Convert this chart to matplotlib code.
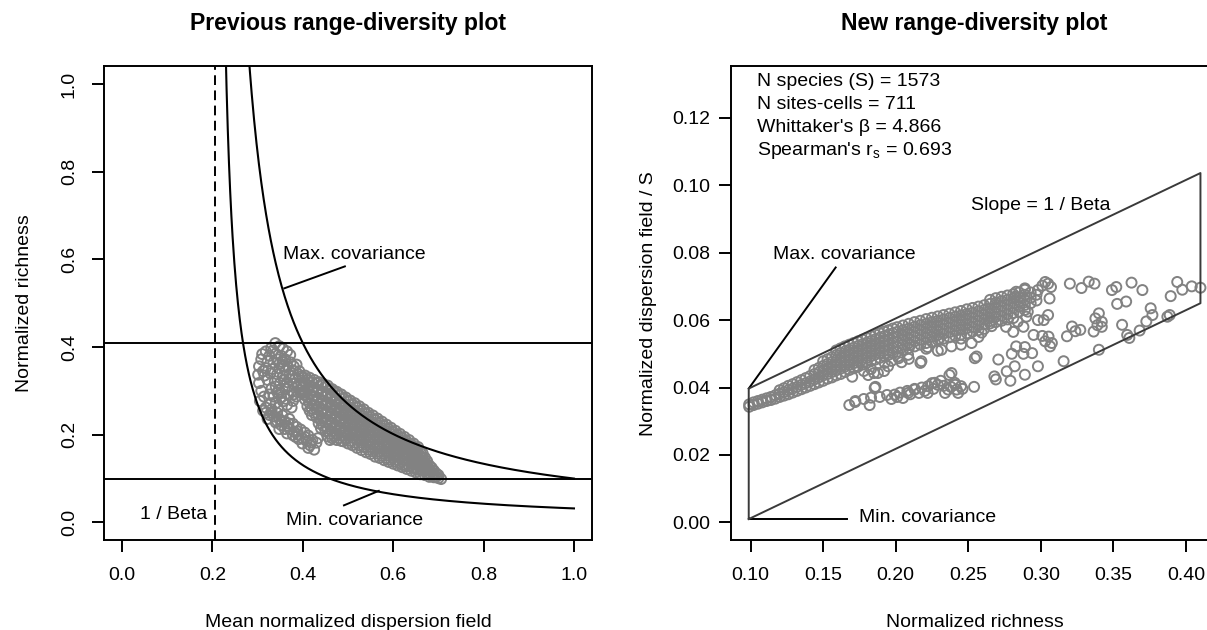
import numpy as np
import matplotlib
matplotlib.use("Agg")
import matplotlib.pyplot as plt

plt.rcParams['font.family'] = ['Liberation Sans', 'DejaVu Sans']
plt.rcParams['mathtext.fontset'] = 'custom'
plt.rcParams['mathtext.rm'] = 'Liberation Sans'

# summary numbers
n_species = 1573
n_sites = 711
beta = 4.866
spearman = 0.693
inv_beta = 0.2055
rich_min, rich_max = 0.0987, 0.41

# bound curves of the old plot: richness = k / (dispersion - 1/beta)
max_k = 0.0795
min_k = 0.0254

# bounds of the new plot (polygon)
poly_x = [rich_min, rich_min, rich_max, rich_max, rich_min]
poly_y = [0.0010, 0.0397, 0.1036, 0.0650, 0.0010]

left_ticks = [0.0, 0.2, 0.4, 0.6, 0.8, 1.0]
right_xticks = [0.10, 0.15, 0.20, 0.25, 0.30, 0.35, 0.40]
right_yticks = [0.00, 0.02, 0.04, 0.06, 0.08, 0.10, 0.12]

# ---- old plot points (x = mean normalized dispersion field, y = normalized richness)
old_lobe = [
    [0.339, 0.409], [0.348, 0.402], [0.330, 0.398], [0.356, 0.396], [0.365, 0.390],
    [0.318, 0.390], [0.310, 0.384], [0.326, 0.380], [0.340, 0.385], [0.352, 0.380],
    [0.372, 0.382], [0.308, 0.372], [0.322, 0.368], [0.335, 0.365], [0.348, 0.362],
    [0.361, 0.372], [0.373, 0.365], [0.386, 0.360], [0.303, 0.356], [0.318, 0.352],
    [0.333, 0.350], [0.348, 0.351], [0.362, 0.347], [0.378, 0.347], [0.392, 0.345],
    [0.301, 0.337], [0.315, 0.335], [0.343, 0.338], [0.356, 0.334], [0.370, 0.336],
    [0.384, 0.330], [0.398, 0.334], [0.303, 0.318], [0.338, 0.322], [0.350, 0.318],
    [0.365, 0.320], [0.380, 0.316], [0.396, 0.318], [0.308, 0.300], [0.331, 0.306],
    [0.346, 0.302], [0.360, 0.305], [0.376, 0.300], [0.392, 0.302], [0.314, 0.287],
    [0.335, 0.287], [0.352, 0.285], [0.368, 0.290], [0.386, 0.287], [0.404, 0.291],
    [0.305, 0.277], [0.340, 0.272], [0.356, 0.276], [0.378, 0.277], [0.318, 0.262],
    [0.345, 0.262], [0.365, 0.268], [0.375, 0.262], [0.328, 0.272], [0.344, 0.296],
    [0.357, 0.357], [0.328, 0.340], [0.340, 0.310], [0.326, 0.292], [0.334, 0.392],
    [0.344, 0.372], [0.355, 0.366], [0.366, 0.356], [0.380, 0.356], [0.390, 0.338],
    [0.372, 0.326], [0.358, 0.326], [0.388, 0.308], [0.368, 0.310], [0.352, 0.295],
    [0.380, 0.292], [0.362, 0.282], [0.395, 0.296], [0.322, 0.325], [0.312, 0.345],
]
old_branch = [
    [0.318, 0.250], [0.326, 0.245], [0.312, 0.255], [0.331, 0.258], [0.336, 0.242],
    [0.322, 0.236], [0.343, 0.250], [0.348, 0.236], [0.340, 0.228], [0.355, 0.244],
    [0.360, 0.230], [0.352, 0.222], [0.343, 0.231], [0.365, 0.220], [0.370, 0.236],
    [0.372, 0.212], [0.378, 0.225], [0.360, 0.213], [0.382, 0.206], [0.386, 0.218],
    [0.390, 0.200], [0.395, 0.212], [0.378, 0.199], [0.399, 0.192], [0.404, 0.205],
    [0.408, 0.186], [0.412, 0.198], [0.391, 0.190], [0.416, 0.176], [0.421, 0.188],
    [0.412, 0.170], [0.425, 0.166], [0.430, 0.182], [0.433, 0.192], [0.348, 0.213],
    [0.365, 0.203], [0.399, 0.180], [0.384, 0.195], [0.330, 0.250], [0.352, 0.232],
    [0.368, 0.226], [0.388, 0.208], [0.406, 0.194], [0.418, 0.182],
]
old_band = [
    (0.400, [0.330, 0.310, 0.295]),
    (0.405, [0.335, 0.318, 0.300, 0.280]),
    (0.410, [0.325, 0.305, 0.285, 0.265]),
    (0.415, [0.330, 0.312, 0.292, 0.272, 0.255]),
    (0.420, [0.320, 0.300, 0.280, 0.260, 0.245]),
    (0.425, [0.325, 0.308, 0.288, 0.268, 0.250]),
    (0.430, [0.318, 0.298, 0.278, 0.258, 0.240]),
    (0.435, [0.320, 0.302, 0.284, 0.264, 0.245, 0.226]),
    (0.440, [0.314, 0.292, 0.272, 0.252, 0.232, 0.215]),
    (0.445, [0.316, 0.298, 0.278, 0.258, 0.238, 0.220]),
    (0.450, [0.310, 0.287, 0.268, 0.248, 0.228, 0.208]),
    (0.455, [0.312, 0.293, 0.274, 0.254, 0.234, 0.214, 0.196]),
    (0.460, [0.304, 0.282, 0.262, 0.242, 0.222, 0.202, 0.188]),
    (0.465, [0.304, 0.287, 0.268, 0.248, 0.228, 0.208, 0.192]),
    (0.470, [0.297, 0.275, 0.256, 0.236, 0.216, 0.197]),
    (0.475, [0.298, 0.280, 0.262, 0.242, 0.222, 0.203, 0.188]),
    (0.480, [0.290, 0.270, 0.250, 0.230, 0.210, 0.192]),
    (0.485, [0.292, 0.274, 0.256, 0.236, 0.216, 0.198, 0.186]),
    (0.490, [0.283, 0.262, 0.244, 0.225, 0.205, 0.185]),
    (0.495, [0.285, 0.268, 0.250, 0.230, 0.210, 0.192]),
    (0.500, [0.276, 0.255, 0.236, 0.218, 0.198, 0.180]),
    (0.505, [0.278, 0.262, 0.244, 0.224, 0.205, 0.186]),
    (0.510, [0.269, 0.248, 0.230, 0.212, 0.193, 0.176]),
    (0.515, [0.272, 0.255, 0.238, 0.220, 0.200, 0.182]),
    (0.520, [0.262, 0.242, 0.224, 0.206, 0.188, 0.170]),
    (0.525, [0.265, 0.248, 0.230, 0.212, 0.194, 0.176]),
    (0.530, [0.255, 0.235, 0.218, 0.200, 0.182, 0.165]),
    (0.535, [0.258, 0.242, 0.225, 0.208, 0.190, 0.172]),
    (0.540, [0.248, 0.230, 0.212, 0.195, 0.177, 0.160]),
    (0.545, [0.250, 0.235, 0.218, 0.200, 0.183, 0.166]),
    (0.550, [0.240, 0.222, 0.205, 0.188, 0.172, 0.156]),
    (0.555, [0.244, 0.228, 0.212, 0.195, 0.178, 0.162]),
    (0.560, [0.234, 0.216, 0.200, 0.183, 0.167, 0.150]),
    (0.565, [0.237, 0.222, 0.206, 0.190, 0.174, 0.157]),
    (0.570, [0.227, 0.210, 0.194, 0.178, 0.162, 0.147]),
    (0.575, [0.230, 0.215, 0.200, 0.184, 0.168, 0.152]),
    (0.580, [0.220, 0.203, 0.188, 0.173, 0.157, 0.142]),
    (0.585, [0.223, 0.208, 0.194, 0.178, 0.162, 0.147]),
    (0.590, [0.213, 0.197, 0.182, 0.168, 0.153, 0.138]),
    (0.595, [0.216, 0.202, 0.188, 0.173, 0.158, 0.143]),
    (0.600, [0.206, 0.191, 0.177, 0.163, 0.148, 0.134]),
    (0.605, [0.209, 0.195, 0.182, 0.168, 0.153, 0.139]),
    (0.610, [0.199, 0.185, 0.171, 0.157, 0.143, 0.130]),
    (0.615, [0.202, 0.188, 0.175, 0.162, 0.148, 0.135]),
    (0.620, [0.192, 0.179, 0.166, 0.152, 0.139, 0.126]),
    (0.625, [0.195, 0.182, 0.170, 0.157, 0.144, 0.131]),
    (0.630, [0.185, 0.172, 0.160, 0.147, 0.134, 0.122]),
    (0.635, [0.188, 0.176, 0.164, 0.152, 0.140, 0.128]),
    (0.640, [0.178, 0.166, 0.154, 0.142, 0.130, 0.118]),
    (0.645, [0.180, 0.168, 0.157, 0.146, 0.135, 0.124]),
    (0.650, [0.170, 0.158, 0.147, 0.136, 0.125, 0.114]),
    (0.655, [0.172, 0.160, 0.150, 0.140, 0.130, 0.120]),
    (0.660, [0.160, 0.150, 0.140, 0.130, 0.120, 0.110]),
    (0.665, [0.158, 0.148, 0.138, 0.128, 0.118]),
    (0.670, [0.148, 0.138, 0.128, 0.118, 0.108]),
    (0.675, [0.140, 0.130, 0.120, 0.110]),
    (0.680, [0.130, 0.120, 0.112, 0.104]),
    (0.685, [0.125, 0.115, 0.106]),
    (0.690, [0.118, 0.110, 0.103]),
    (0.695, [0.112, 0.104]),
    (0.700, [0.108, 0.101]),
    (0.706, [0.099]),
]

# ---- new plot points (x = normalized richness, y = normalized dispersion field / S)
new_band = [
    (0.099, [0.0343, 0.0350]), (0.102, [0.0348, 0.0356]), (0.105, [0.0352, 0.0360]),
    (0.108, [0.0356, 0.0364]), (0.111, [0.0360, 0.0368]), (0.114, [0.0363, 0.0372]),
    (0.117, [0.0367, 0.0377]), (0.120, [0.0372, 0.0382, 0.0392]),
    (0.123, [0.0376, 0.0386, 0.0398]), (0.126, [0.0380, 0.0392, 0.0405]),
    (0.129, [0.0385, 0.0397, 0.0410]), (0.132, [0.0390, 0.0402, 0.0416]),
    (0.135, [0.0395, 0.0408, 0.0422]), (0.138, [0.0400, 0.0413, 0.0428]),
    (0.141, [0.0405, 0.0418, 0.0434]), (0.144, [0.0410, 0.0424, 0.0440, 0.0452]),
    (0.147, [0.0415, 0.0430, 0.0445, 0.0458]),
    (0.150, [0.0420, 0.0436, 0.0450, 0.0464, 0.0478]),
    (0.153, [0.0426, 0.0440, 0.0456, 0.0470, 0.0484]),
    (0.156, [0.0430, 0.0446, 0.0461, 0.0476, 0.0490]),
    (0.159, [0.0436, 0.0451, 0.0466, 0.0481, 0.0496, 0.0510]),
    (0.162, [0.0440, 0.0456, 0.0472, 0.0487, 0.0502, 0.0516]),
    (0.165, [0.0446, 0.0462, 0.0477, 0.0492, 0.0507, 0.0522]),
    (0.168, [0.0452, 0.0467, 0.0482, 0.0497, 0.0512, 0.0527]),
    (0.171, [0.0457, 0.0472, 0.0488, 0.0503, 0.0518, 0.0532]),
    (0.174, [0.0462, 0.0478, 0.0493, 0.0508, 0.0523, 0.0537]),
    (0.177, [0.0468, 0.0483, 0.0498, 0.0513, 0.0528, 0.0542]),
    (0.180, [0.0473, 0.0488, 0.0503, 0.0518, 0.0533, 0.0547]),
    (0.183, [0.0478, 0.0493, 0.0508, 0.0523, 0.0538, 0.0552]),
    (0.186, [0.0483, 0.0498, 0.0513, 0.0528, 0.0543, 0.0557]),
    (0.189, [0.0488, 0.0503, 0.0518, 0.0533, 0.0548, 0.0561]),
    (0.192, [0.0493, 0.0508, 0.0523, 0.0538, 0.0552, 0.0566]),
    (0.195, [0.0497, 0.0512, 0.0527, 0.0542, 0.0557, 0.0570]),
    (0.198, [0.0502, 0.0517, 0.0532, 0.0547, 0.0561, 0.0575]),
    (0.201, [0.0506, 0.0521, 0.0536, 0.0551, 0.0565, 0.0579]),
    (0.205, [0.0512, 0.0527, 0.0542, 0.0556, 0.0570, 0.0584]),
    (0.209, [0.0517, 0.0532, 0.0547, 0.0561, 0.0575, 0.0589]),
    (0.213, [0.0522, 0.0537, 0.0552, 0.0566, 0.0580, 0.0594]),
    (0.217, [0.0527, 0.0542, 0.0557, 0.0571, 0.0585, 0.0598]),
    (0.221, [0.0532, 0.0547, 0.0561, 0.0575, 0.0589, 0.0603]),
    (0.225, [0.0536, 0.0551, 0.0566, 0.0580, 0.0594, 0.0607]),
    (0.229, [0.0541, 0.0556, 0.0570, 0.0584, 0.0598, 0.0611]),
    (0.233, [0.0545, 0.0560, 0.0574, 0.0588, 0.0602, 0.0615]),
    (0.237, [0.0549, 0.0564, 0.0578, 0.0592, 0.0606, 0.0619]),
    (0.241, [0.0553, 0.0568, 0.0582, 0.0596, 0.0610, 0.0623]),
    (0.245, [0.0557, 0.0572, 0.0586, 0.0600, 0.0614, 0.0627]),
    (0.249, [0.0561, 0.0576, 0.0590, 0.0604, 0.0618, 0.0632]),
    (0.253, [0.0566, 0.0580, 0.0594, 0.0608, 0.0622, 0.0636]),
    (0.257, [0.0570, 0.0584, 0.0598, 0.0612, 0.0626, 0.0640]),
    (0.261, [0.0574, 0.0588, 0.0602, 0.0616, 0.0630, 0.0644]),
    (0.265, [0.0590, 0.0606, 0.0620, 0.0634, 0.0648, 0.0660]),
    (0.269, [0.0594, 0.0610, 0.0624, 0.0638, 0.0652, 0.0665]),
    (0.273, [0.0598, 0.0613, 0.0628, 0.0642, 0.0656, 0.0669]),
    (0.277, [0.0602, 0.0617, 0.0632, 0.0646, 0.0660, 0.0673]),
    (0.281, [0.0606, 0.0621, 0.0636, 0.0650, 0.0664, 0.0677]),
    (0.285, [0.0625, 0.0640, 0.0654, 0.0668, 0.0682]),
    (0.289, [0.0630, 0.0645, 0.0660, 0.0675, 0.0690]),
    (0.293, [0.0650, 0.0666, 0.0682]),
    (0.297, [0.0658, 0.0675]),
]
new_lower = [
    [0.168, 0.0348], [0.172, 0.0357], [0.178, 0.0366], [0.182, 0.0348], [0.186, 0.0402],
    [0.189, 0.0372], [0.194, 0.0378], [0.197, 0.0366], [0.201, 0.0372], [0.205, 0.0369],
    [0.208, 0.0390], [0.210, 0.0380], [0.213, 0.0396], [0.216, 0.0384], [0.220, 0.0390],
    [0.222, 0.0384], [0.225, 0.0413], [0.226, 0.0396], [0.229, 0.0408], [0.231, 0.0420],
    [0.234, 0.0384], [0.237, 0.0437], [0.238, 0.0402], [0.241, 0.0408], [0.243, 0.0384],
    [0.246, 0.0396], [0.245, 0.0404], [0.242, 0.0394], [0.2085, 0.0384], [0.2131, 0.0394],
    [0.2223, 0.0404], [0.2269, 0.0414], [0.2361, 0.0394], [0.2407, 0.0414], [0.1993, 0.0379],
    [0.1855, 0.0399], [0.183, 0.0370], [0.1722, 0.0360], [0.218, 0.0400], [0.203, 0.0385],
    [0.233, 0.0405], [0.254, 0.0402],
]
new_middle = [
    [0.170, 0.0432], [0.178, 0.0449], [0.181, 0.0437], [0.185, 0.0443], [0.192, 0.0449],
    [0.197, 0.0479], [0.202, 0.0487], [0.209, 0.0485], [0.217, 0.0473], [0.2015, 0.0492],
    [0.2085, 0.0497], [0.2177, 0.0478], [0.204, 0.0475], [0.222, 0.0520], [0.2315, 0.0512],
    [0.2384, 0.0522], [0.245, 0.0527], [0.2523, 0.0532], [0.257, 0.0550], [0.2592, 0.0563],
    [0.2661, 0.0582], [0.2649, 0.0597], [0.183, 0.0455], [0.173, 0.0464], [0.229, 0.0509],
    [0.221, 0.0515], [0.210, 0.0527], [0.245, 0.0545], [0.230, 0.0545], [0.2384, 0.0443],
    [0.1877, 0.0443], [0.1947, 0.0463], [0.2545, 0.0487], [0.1924, 0.0473],
]
new_right = [
    [0.2557, 0.0492], [0.2707, 0.0483], [0.268, 0.0433], [0.2765, 0.0448], [0.282, 0.0463],
    [0.289, 0.0438], [0.298, 0.0463], [0.294, 0.0502], [0.288, 0.0500], [0.283, 0.0522],
    [0.289, 0.0520], [0.280, 0.0500], [0.295, 0.0556], [0.301, 0.0553], [0.298, 0.0600],
    [0.290, 0.0610], [0.291, 0.0625], [0.284, 0.0595], [0.288, 0.0580], [0.281, 0.0565],
    [0.276, 0.0580], [0.279, 0.0420], [0.269, 0.0424], [0.303, 0.0713], [0.298, 0.0689],
    [0.289, 0.0694], [0.283, 0.0684], [0.282, 0.0669],
    [0.301, 0.0702], [0.305, 0.0708], [0.307, 0.0698], [0.306, 0.0664], [0.320, 0.0708],
    [0.328, 0.0695], [0.333, 0.0714], [0.337, 0.0708], [0.349, 0.0689], [0.352, 0.0698],
    [0.3625, 0.0711], [0.370, 0.0689], [0.394, 0.0713], [0.3975, 0.0690], [0.404, 0.0700],
    [0.410, 0.0696], [0.3895, 0.0671], [0.3526, 0.0648], [0.3588, 0.0655],
    [0.305, 0.0615], [0.302, 0.0600], [0.340, 0.0620], [0.3376, 0.0605], [0.342, 0.0595],
    [0.339, 0.0585], [0.342, 0.0580], [0.356, 0.0586], [0.3757, 0.0635], [0.3769, 0.0615],
    [0.3872, 0.0610], [0.3888, 0.0615], [0.3215, 0.0581], [0.3238, 0.0567], [0.318, 0.0552],
    [0.3364, 0.0566], [0.3595, 0.0556], [0.361, 0.0547], [0.3681, 0.0569], [0.3727, 0.0596],
    [0.3053, 0.0551], [0.303, 0.0537], [0.3076, 0.0532], [0.3064, 0.0522], [0.3272, 0.0571],
    [0.340, 0.0512], [0.3157, 0.0478],
]

# annotation texts
txt_lines = ["N species (S) = %d" % n_species,
             "N sites-cells = %d" % n_sites,
             "Whittaker's \u03b2 = %.3f" % beta,
             "Spearman's r$_\\mathregular{s}$ = %.3f" % spearman]
txt_y = [0.1307, 0.1238, 0.1172, 0.1103]

pt_color = '#828282'
fs = 14


def flatten(rows):
    xs, ys = [], []
    for x, col in rows:
        for y in col:
            xs.append(x)
            ys.append(y)
    return np.array(xs), np.array(ys)


def style_axes(ax):
    for s in ax.spines.values():
        s.set_linewidth(1.4)
        s.set_color('black')
    ax.tick_params(direction='out', length=8.3, width=1.4, labelsize=fs, colors='black')


fig = plt.figure(figsize=(12.07, 6.30), dpi=100)
ax1 = fig.add_axes([0.0862, 0.1429, 0.4043, 0.7516])
ax2 = fig.add_axes([0.6053, 0.1429, 0.4043, 0.7516])

# ---------- left: previous plot
ox, oy = flatten(old_band)
pts = np.array(old_lobe + old_branch)
ax1.scatter(np.concatenate([pts[:, 0], ox]), np.concatenate([pts[:, 1], oy]),
            s=52, facecolors='none', edgecolors=pt_color, linewidths=1.4, zorder=2)

cx = np.linspace(inv_beta + 0.0005, 1.0, 600)
ax1.plot(cx, max_k / (cx - inv_beta), color='black', lw=1.5, zorder=3)
ax1.plot(cx, min_k / (cx - inv_beta), color='black', lw=1.5, zorder=3)
ax1.axhline(rich_max, color='black', lw=1.4)
ax1.axhline(rich_min, color='black', lw=1.4)
ax1.axvline(inv_beta, color='black', lw=1.4, linestyle=(0, (5, 2.8)))

ax1.text(0.357, 0.612, "Max. covariance", fontsize=fs, ha='left', va='center')
ax1.plot([0.493, 0.359], [0.584, 0.534], color='black', lw=1.4)
ax1.text(0.363, 0.005, "Min. covariance", fontsize=fs, ha='left', va='center')
ax1.plot([0.491, 0.568], [0.039, 0.072], color='black', lw=1.4)
ax1.text(0.188, 0.018, "1 / Beta", fontsize=fs, ha='right', va='center')

ax1.set_xlim(-0.04, 1.04)
ax1.set_ylim(-0.04, 1.04)
ax1.set_xticks(left_ticks)
ax1.set_xticklabels(["%.1f" % t for t in left_ticks])
ax1.set_yticks(left_ticks)
ax1.set_yticklabels(["%.1f" % t for t in left_ticks], rotation=90, va='center')
style_axes(ax1)
ax1.tick_params(axis='x', pad=11.5)
ax1.tick_params(axis='y', pad=10.5)
ax1.set_xlabel("Mean normalized dispersion field", fontsize=fs, va='center')
ax1.set_ylabel("Normalized richness", fontsize=fs, va='center')
ax1.xaxis.set_label_coords(0.5, -0.174)
ax1.yaxis.set_label_coords(-0.162, 0.5)
ax1.text(0.5, 1.090, "Previous range-diversity plot", transform=ax1.transAxes,
         fontsize=16.6, fontweight='bold', ha='center', va='center')

# ---------- right: new plot
bx, by = flatten(new_band)
pts2 = np.array(new_lower + new_middle + new_right)
ax2.scatter(np.concatenate([bx, pts2[:, 0]]), np.concatenate([by, pts2[:, 1]]),
            s=52, facecolors='none', edgecolors=pt_color, linewidths=1.4, zorder=2)
ax2.plot(poly_x, poly_y, color='#3a3a3a', lw=1.4, zorder=3)

for t, y in zip(txt_lines, txt_y):
    ax2.text(0.1043, y, t, fontsize=fs, ha='left', va='center')
ax2.text(0.2516, 0.0940, "Slope = 1 / Beta", fontsize=fs, ha='left', va='center')
ax2.text(0.1152, 0.0794, "Max. covariance", fontsize=fs, ha='left', va='center')
ax2.plot([0.1586, rich_min], [0.0756, poly_y[1]], color='black', lw=1.4)
ax2.text(0.1749, 0.0014, "Min. covariance", fontsize=fs, ha='left', va='center')
ax2.plot([rich_min, 0.1663], [poly_y[0], poly_y[0]], color='black', lw=1.4)

ax2.set_xlim(0.0862, 0.4225)
ax2.set_ylim(-0.0052, 0.1352)
ax2.set_xticks(right_xticks)
ax2.set_xticklabels(["%.2f" % t for t in right_xticks])
ax2.set_yticks(right_yticks)
ax2.set_yticklabels(["%.2f" % t for t in right_yticks])
style_axes(ax2)
ax2.tick_params(axis='x', pad=11.5)
ax2.tick_params(axis='y', pad=6.5)
ax2.set_xlabel("Normalized richness", fontsize=fs, va='center')
ax2.set_ylabel("Normalized dispersion field / S", fontsize=fs, va='center')
ax2.xaxis.set_label_coords(0.5, -0.174)
ax2.yaxis.set_label_coords(-0.169, 0.5)
ax2.text(0.5, 1.090, "New range-diversity plot", transform=ax2.transAxes,
         fontsize=16.6, fontweight='bold', ha='center', va='center')

fig.savefig("out.png", dpi=100)
